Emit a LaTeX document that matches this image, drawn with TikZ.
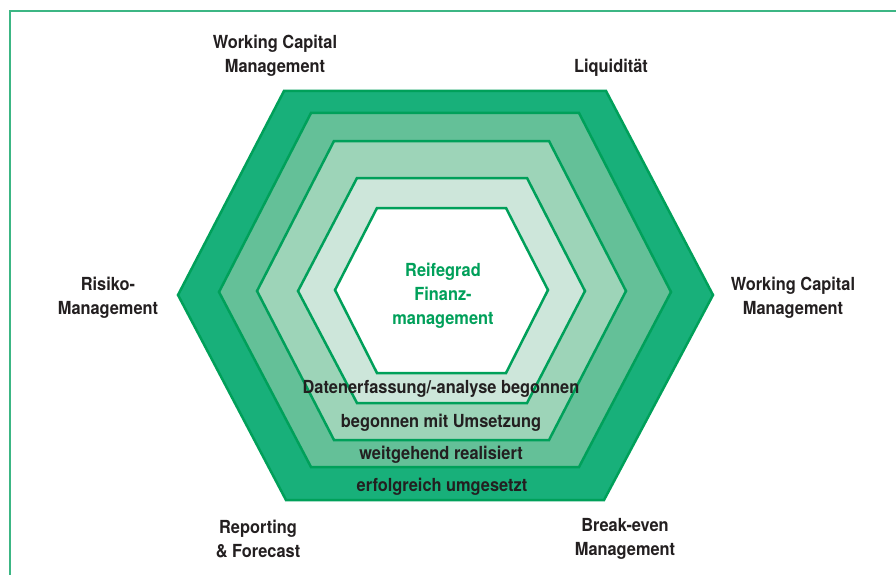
\documentclass[tikz,border=0pt]{standalone}
\usepackage{fontspec}
\setmainfont{TeX Gyre Heros}[FakeStretch=0.91]
\usepackage{tikz}
\usetikzlibrary{positioning}
\definecolor{ringline}{RGB}{0,160,90}
\definecolor{frameline}{RGB}{60,182,132}
\definecolor{ringA}{RGB}{24,176,122}
\definecolor{ringB}{RGB}{100,192,152}
\definecolor{ringC}{RGB}{157,212,184}
\definecolor{ringD}{RGB}{205,230,218}
\definecolor{textgray}{RGB}{35,31,32}

\begin{document}
\begin{tikzpicture}[x=1pt, y=-1pt]
\tikzstyle{every node} = [font=\bfseries\fontsize{18}{24}\selectfont, text=textgray, align=center, inner sep=0pt]
\tikzstyle{ring} = [draw=ringline, line width=2.5pt, line join=miter]
\useasboundingbox (0,0) rectangle (896,575);
\draw[frameline, line width=2pt] (9.5,575) -- (9.5,11) -- (896,11);
% rings, outside in
\draw[ring, fill=ringA] (178,295) -- (284,91) -- (606,91) -- (713,295) -- (604,500) -- (286,500) -- cycle;
\draw[ring, fill=ringB] (219,292) -- (311,113) -- (579,113) -- (671,292) -- (579,467) -- (311,467) -- cycle;
\draw[ring, fill=ringC] (257,291) -- (334,141) -- (549,141) -- (626,291) -- (549,440) -- (334,440) -- cycle;
\draw[ring, fill=ringD] (298,291) -- (357,178) -- (527,178) -- (585,291) -- (527,403) -- (357,403) -- cycle;
\draw[ring, fill=white] (335,290) -- (377,208) -- (506,208) -- (548,290) -- (506,373) -- (377,373) -- cycle;
% centre
\node[text=ringline] (reife) at (443,296) {Reifegrad\\Finanz-\\management};
% levels
\node (lvlD) at (441,389) {Datenerfassung/-analyse begonnen};
\node (lvlC) at (441,423) {begonnen mit Umsetzung};
\node (lvlB) at (441,455) {weitgehend realisiert};
\node (lvlA) at (442,487) {erfolgreich umgesetzt};
% topics
\node (wcmtop) at (275,56) {Working Capital\\Management};
\node (liqui) at (611,68) {Liquidität};
\node (risiko) at (108,298) {Risiko-\\Management};
\node (wcmright) at (793,298) {Working Capital\\Management};
\node (report) at (258,539) {Reporting\\\& Forecast};
\node (breakeven) at (625,539) {Break-even\\Management};
\end{tikzpicture}
\end{document}
